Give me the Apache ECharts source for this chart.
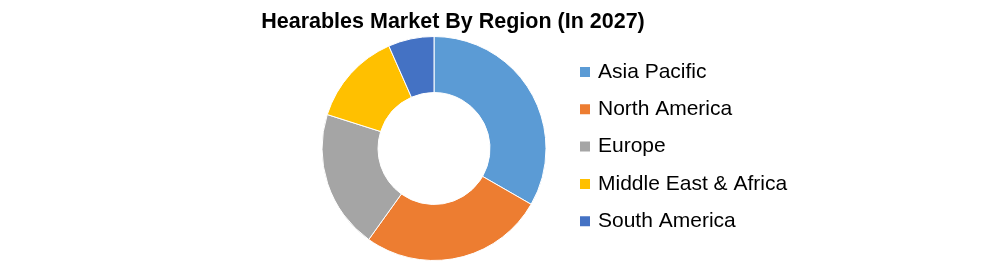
<!DOCTYPE html>
<html><head><meta charset="utf-8">
<script src="https://cdn.jsdelivr.net/npm/echarts@6/dist/echarts.min.js"></script>
<style>html,body{margin:0;padding:0;background:#fff}#c{width:996px;height:261px}</style>
</head><body><div id="c"></div>
<script>
const titleText = "Hearables Market By Region (In 2027)";
const categories = ["Asia Pacific", "North America", "Europe", "Middle East & Africa", "South America"];
const shares = [33.3, 26.6, 20.0, 13.5, 6.6];
const colors = ["#5B9BD5", "#ED7D31", "#A5A5A5", "#FFC000", "#4472C4"];

const chart = echarts.init(document.getElementById('c'), null, {renderer: 'canvas'});
chart.setOption({
  animation: false,
  backgroundColor: '#fff',
  title: {
    text: titleText, left: 453, top: 5, textAlign: 'center', padding: 0,
    textStyle: {fontFamily: 'Liberation Sans', fontSize: 21.5, fontWeight: 'bold', color: '#000', lineHeight: 34}
  },
  legend: {
    orient: 'vertical', left: 578, top: 60, padding: 0,
    itemWidth: 12, itemHeight: 12, itemGap: 13.3, icon: 'rect',
    data: categories,
    textStyle: {fontFamily: 'Liberation Sans', fontSize: 21, color: '#000', lineHeight: 24, padding: [0,0,0,2]}
  },
  series: [{
    type: 'pie', center: [434, 148.5], radius: [56, 112],
    startAngle: 90, clockwise: true,
    label: {show: false}, labelLine: {show: false},
    itemStyle: {borderColor: '#fff', borderWidth: 1},
    emphasis: {disabled: true},
    data: categories.map((n, i) => ({name: n, value: shares[i], itemStyle: {color: colors[i]}}))
  }]
});
</script></body></html>
